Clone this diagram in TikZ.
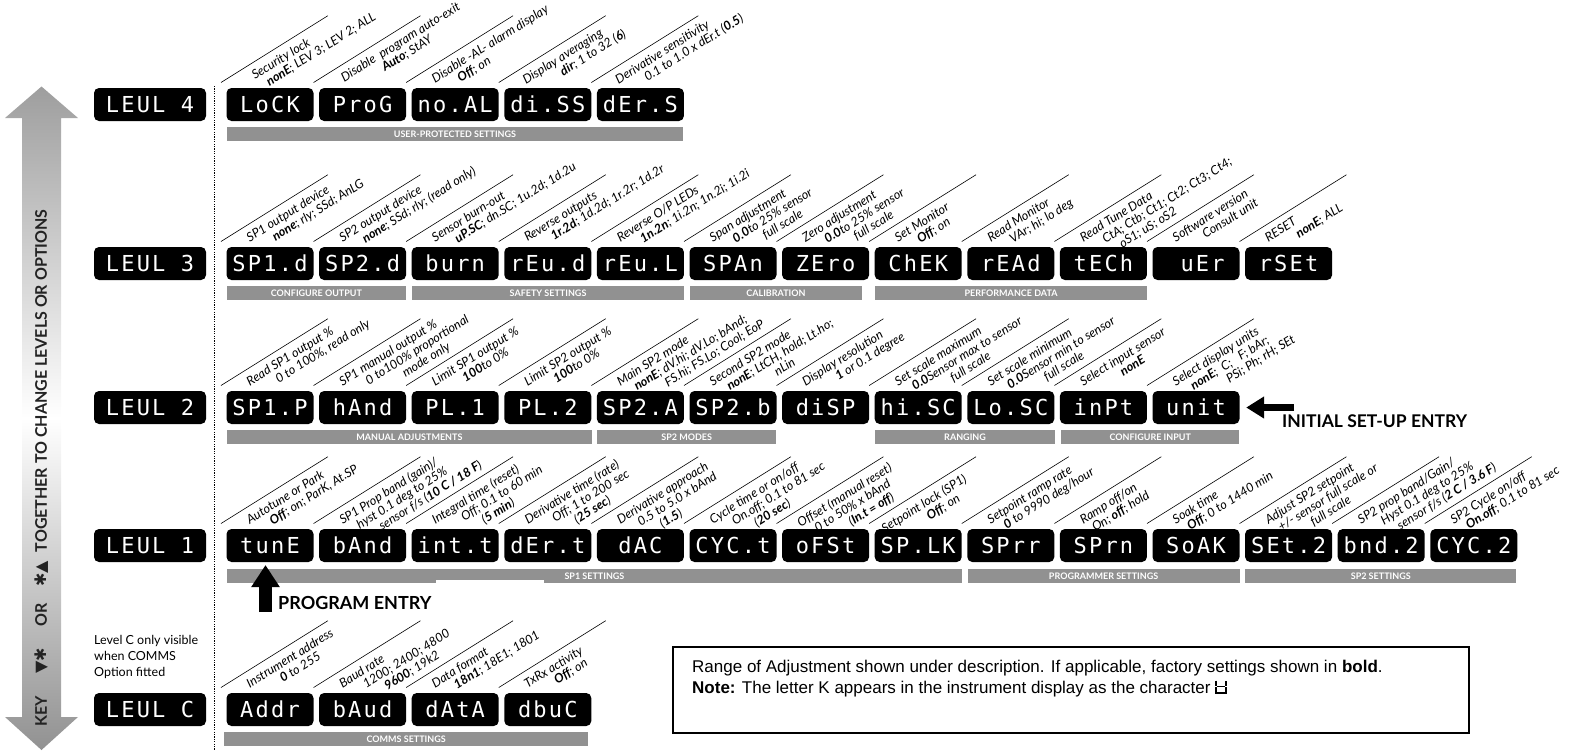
\documentclass[tikz,border=0pt]{standalone}
\usepackage{fontspec}
\setmainfont{Lato}
\newfontfamily\segfont{DejaVu Sans Mono}[LetterSpace=10]
\newfontfamily\notefont{Liberation Sans}
\newfontfamily\symfont{DejaVu Sans}
\usetikzlibrary{arrows.meta}
\definecolor{barg}{RGB}{145,145,145}
\definecolor{arrg}{RGB}{158,158,158}
\definecolor{keytext}{RGB}{35,35,35}
\tikzset{
  disp/.style={fill=black, rounded corners=5pt, minimum width=87pt, minimum height=33pt, inner sep=0pt, text=white, text height=16pt, text depth=0pt, font=\segfont\fontsize{22}{22}\selectfont},
  lvlbox/.style={disp, minimum width=112pt},
  bar/.style={fill=barg, minimum height=14pt, inner sep=0pt, anchor=north west, text=white, text height=6.5pt, text depth=0pt, font=\bfseries\fontsize{9}{9}\selectfont},
  leader/.style={line width=0.6pt},
  lab/.style={inner sep=0pt, align=left, anchor=north west, transform shape, font=\itshape\fontsize{12.5}{13}\selectfont},
  fatarrow/.style={line width=13pt, -{Triangle[width=27pt,length=22pt]}},
  thinarrow/.style={line width=7pt, -{Triangle[width=21pt,length=18pt]}},
  entry/.style={anchor=west, inner sep=0pt, font=\bfseries\fontsize{18}{18}\selectfont},
}
% #1 along offset of the text, #2 name, #3 column, #4 row top, #5 text
\newcommand\desc[5][24]{%
  \begin{scope}[shift={({221+92.6*#3},{#4-5.5})}, rotate=32]
    \draw[leader] (0,0) -- (126,0);
    \node[lab] (#2) at (#1,6.5) {#5};
  \end{scope}}
\newcommand\rowboxes[3]{%
  \foreach \lbl [count=\kk from 0] in {#3} {\node[disp] (#1-\kk) at ({270+92.6*\kk},{#2+16.5}) {\lbl};}}
\newcommand\ind[1]{\hspace*{#1pt}}
\newcommand\kglyph{\tikz[x=1pt,y=1pt,baseline=0pt,line width=1.3pt]{\draw (0,12.5)--(0,6.8) (0,5.7)--(0,0)--(10,0)--(10,5.7) (10,6.8)--(10,12.5) (0.8,6.25)--(9.2,6.25);}}
\begin{document}
\begin{tikzpicture}[x=1pt,y=-1pt]
\useasboundingbox (0,0) rectangle (1579,750);
\clip (0,0) rectangle (1579,750);
% key arrow
\shade[top color=arrg, bottom color=arrg!92!black, middle color=white]
  (41.5,86.5) -- (78,118) -- (61,118) -- (61,717) -- (78,717) -- (41.5,750) -- (5,717) -- (22,717) -- (22,118) -- (5,118) -- cycle;
\node[rotate=90, text=keytext, inner sep=0pt, font=\bfseries\fontsize{16}{16}\selectfont] (keytxt) at (42,468)
  {KEY\hspace{22pt}{\symfont ▼✱}\hspace{22pt}OR\hspace{16pt}{\symfont ✱▲}\hspace{9pt}TOGETHER TO CHANGE LEVELS OR OPTIONS};
% dotted separator
\coordinate (dtop) at (214.5,86);
\coordinate (dbot) at (214.5,750);
\draw[line width=1.2pt, dash pattern=on 1.2pt off 1.2pt] (dtop) -- (dbot);
% level boxes
\node[lvlbox] (lv4) at (150,104.5) {LEUL 4};
\node[lvlbox] (lv3) at (150,263.5) {LEUL 3};
\node[lvlbox] (lv2) at (150,407.5) {LEUL 2};
\node[lvlbox] (lv1) at (150,545.5) {LEUL 1};
\node[lvlbox] (lvc) at (150,709.5) {LEUL C};
\node[anchor=north west, align=left, inner sep=0pt, font=\fontsize{12.5}{16}\selectfont] (lcnote) at (94,635) {Level C only visible\\when COMMS\\Option fitted};
% displays
\rowboxes{r4}{88}{LoCK,ProG,no.AL,di.SS,dEr.S}
\rowboxes{r3}{247}{SP1.d,SP2.d,burn,rEu.d,rEu.L,SPAn,ZEro,ChEK,rEAd,tECh,{\hphantom{0}uEr},rSEt}
\rowboxes{r2}{391}{SP1.P,hAnd,PL.1,PL.2,SP2.A,SP2.b,diSP,hi.SC,Lo.SC,inPt,unit}
\rowboxes{r1}{529}{tunE,bAnd,int.t,dEr.t,dAC,CYC.t,oFSt,SP.LK,SPrr,SPrn,SoAK,SEt.2,bnd.2,CYC.2}
\rowboxes{rc}{693}{Addr,bAud,dAtA,dbuC}
% bars
\node[bar, minimum width=456.5pt] (b4a) at (226.5,127) {USER-PROTECTED SETTINGS};
\node[bar, minimum width=179.5pt] (b3a) at (226.5,286) {CONFIGURE OUTPUT};
\node[bar, minimum width=272.3pt] (b3b) at (411.7,286) {SAFETY SETTINGS};
\node[bar, minimum width=172.5pt] (b3c) at (689.5,286) {CALIBRATION};
\node[bar, minimum width=272.3pt] (b3d) at (874.7,286) {PERFORMANCE DATA};
\node[bar, minimum width=365.5pt] (b2a) at (226.5,430) {MANUAL ADJUSTMENTS};
\node[bar, minimum width=179.1pt] (b2b) at (596.9,430) {SP2 MODES};
\node[bar, minimum width=180.3pt] (b2c) at (874.7,430) {RANGING};
\node[bar, minimum width=178pt] (b2d) at (1061,430) {CONFIGURE INPUT};
\node[bar, minimum width=735.5pt] (b1a) at (226.5,569) {SP1 SETTINGS};
\node[bar, minimum width=272.2pt] (b1b) at (967.3,569) {PROGRAMMER SETTINGS};
\node[bar, minimum width=270.9pt] (b1c) at (1245.1,569) {SP2 SETTINGS};
\node[bar, minimum width=364pt] (bca) at (224,732) {COMMS SETTINGS};
\fill[white] (436,580) rectangle (544,600);
% level 4 descriptions
\desc[30]{d4-0}{0}{88}{Security lock\\\ind{9}\textbf{nonE}; LEV 3; LEV 2; ALL}
\desc[26]{d4-1}{1}{88}{Disable\ \ program auto-exit\\\ind{40}\textbf{Auto}; StAY}
\desc{d4-2}{2}{88}{Disable -AL- alarm display\\\ind{22}\textbf{Off}; on}
\desc[22]{d4-3}{3}{88}{Display averaging\\\ind{36}\textbf{dir}; 1 to 32 (\textbf{6})}
\desc[22]{d4-4}{4}{88}{Derivative sensitivity\\\ind{26}0.1 to 1.0 x dEr.t (\textbf{0.5})}
% level 3 descriptions
\desc{d3-0}{0}{247}{SP1 output device\\\ind{22}\textbf{none}; rly; SSd; AnLG}
\desc{d3-1}{1}{247}{SP2 output device\\\ind{19}\textbf{none}; SSd; rly; (read only)}
\desc{d3-2}{2}{247}{Sensor burn-out\\\ind{19}\textbf{uP.SC}; dn.SC; 1u.2d; 1d.2u}
\desc{d3-3}{3}{247}{Reverse outputs\\\ind{23}\textbf{1r.2d}; 1d.2d; 1r.2r; 1d.2r}
\desc{d3-4}{4}{247}{Reverse O/P LEDs\\\ind{19}\textbf{1n.2n}; 1i.2n; 1n.2i; 1i.2i}
\desc{d3-5}{5}{247}{Span adjustment\\\ind{19}\textbf{0.0}to 25\% sensor\\\ind{46}full scale}
\desc{d3-6}{6}{247}{Zero adjustment\\\ind{18}\textbf{0.0}to 25\% sensor\\\ind{44}full scale}
\desc{d3-7}{7}{247}{Set Monitor\\\ind{18}\textbf{Off}; on}
\desc{d3-8}{8}{247}{Read Monitor\\\ind{18}VAr; hi; lo deg}
\desc{d3-9}{9}{247}{Read Tune Data\\\ind{18}CtA; Ctb; Ct1; Ct2; Ct3; Ct4;\\\ind{30}oS1; uS; oS2}
\desc{d3-10}{10}{247}{Software version\\\ind{27}Consult unit}
\desc{d3-11}{11}{247}{RESET\\\ind{28}\textbf{nonE}; ALL}
% level 2 descriptions
\desc{d2-0}{0}{391}{Read SP1 output \%\\\ind{26}0 to 100\%, read only}
\desc{d2-1}{1}{391}{SP1 manual output \%\\\ind{23}0 to100\% proportional\\\ind{58}mode only}
\desc{d2-2}{2}{391}{Limit SP1 output \%\\\ind{28}\textbf{100}to 0\%}
\desc{d2-3}{3}{391}{Limit SP2 output \%\\\ind{26}\textbf{100}to 0\%}
\desc{d2-4}{4}{391}{Main SP2 mode\\\ind{12}\textbf{nonE}; dV.hi; dV.Lo; bAnd;\\\ind{40}FS.hi; FS.Lo; Cool; EoP}
\desc{d2-5}{5}{391}{Second SP2 mode\\\ind{12}\textbf{nonE}; LtCH, hold; Lt.ho;\\\ind{60}nLin}
\desc{d2-6}{6}{391}{Display resolution\\\ind{31}\textbf{1} or 0.1 degree}
\desc{d2-7}{7}{391}{Set scale maximum\\\ind{12}\textbf{0.0}Sensor max to sensor\\\ind{49}full scale}
\desc{d2-8}{8}{391}{Set scale minimum\\\ind{15}\textbf{0.0}Sensor min to sensor\\\ind{50}full scale}
\desc{d2-9}{9}{391}{Select input sensor\\\ind{39}\textbf{nonE}}
\desc{d2-10}{10}{391}{Select display units\\\ind{13}\textbf{nonE}; \ C; \ \ F; bAr;\\\ind{47}PSi; Ph; rH; SEt}
% level 1 descriptions
\desc{d1-0}{0}{529}{Autotune or Park\\\ind{19}\textbf{Off}; on; ParK, At.SP}
\desc{d1-1}{1}{529}{SP1 Prop band (gain)/\\\ind{12}hyst 0.1 deg to 25\%\\\ind{30}sensor f/s (\textbf{10 C / 18 F})}
\desc{d1-2}{2}{529}{Integral time (reset)\\\ind{26}Off; 0.1 to 60 min\\\ind{42}(\textbf{5 min})}
\desc{d1-3}{3}{529}{Derivative time (rate)\\\ind{24}Off; 1 to 200 sec\\\ind{42}(\textbf{25 sec})}
\desc{d1-4}{4}{529}{Derivative approach\\\ind{16}0.5 to 5.0 x bAnd\\\ind{34}(\textbf{1.5})}
\desc{d1-5}{5}{529}{Cycle time or on/off\\\ind{18}On.off; 0.1 to 81 sec\\\ind{36}(\textbf{20 sec})}
\desc[18]{d1-6}{6}{529}{Offset (manual reset)\\\ind{12}0 to 50\% x bAnd\\\ind{44}(\textbf{In.t = off})}
\desc[8]{d1-7}{7}{529}{Setpoint lock (SP1)\\\ind{45}\textbf{Off}; on}
\desc{d1-8}{8}{529}{Setpoint ramp rate\\\ind{11}\textbf{0} to 9990 deg/hour}
\desc{d1-9}{9}{529}{Ramp off/on\\\ind{6}On; \textbf{off}; hold}
\desc{d1-10}{10}{529}{Soak time\\\ind{9}\textbf{Off}; 0 to 1440 min}
\desc{d1-11}{11}{529}{Adjust SP2 setpoint\\\ind{7}+/- sensor full scale or\\\ind{37}full scale}
\desc{d1-12}{12}{529}{SP2 prop band/Gain/\\\ind{19}Hyst 0.1 deg to 25\%\\\ind{30}sensor f/s (\textbf{2 C / 3.6 F})}
\desc{d1-13}{13}{529}{SP2 Cycle on/off\\\ind{10}\textbf{On.off}; 0.1 to 81 sec}
% level C descriptions
\desc{dc-0}{0}{693}{Instrument address\\\ind{31}\textbf{0} to 255}
\desc{dc-1}{1}{693}{Baud rate\\\ind{20}1200; 2400; 4800\\\ind{37}\textbf{9600}; 19k2}
\desc{dc-2}{2}{693}{Data format\\\ind{18}\textbf{18n1}; 18E1; 1801}
\desc{dc-3}{3}{693}{TxRx activity\\\ind{27}\textbf{Off}; on}
% entry arrows
\coordinate (petail) at (265.5,612);
\coordinate (petip) at (265.5,565);
\draw[fatarrow] (petail) -- (petip);
\node[entry] (progentry) at (278,603) {PROGRAM ENTRY};
\coordinate (istail) at (1294,407.5);
\draw[thinarrow] (istail) -- ([xshift=6.5pt]r2-10.east);
\node[entry, font=\bfseries\fontsize{17.5}{17.5}\selectfont] (initentry) at (1282,421) {INITIAL SET-UP ENTRY};
% note box
\node[draw, line width=1.5pt, minimum width=796pt, minimum height=86pt, inner sep=0pt, anchor=north west] (notebox) at (672,646) {};
\node[anchor=north west, align=left, inner sep=0pt, font=\notefont\fontsize{17}{20.5}\selectfont] (notetext) at (692,660)
  {Range of Adjustment shown under description. If applicable, factory settings shown in \textbf{bold}.\\\textbf{Note:} The letter K appears in the instrument display as the character \kglyph};
\end{tikzpicture}
\end{document}
